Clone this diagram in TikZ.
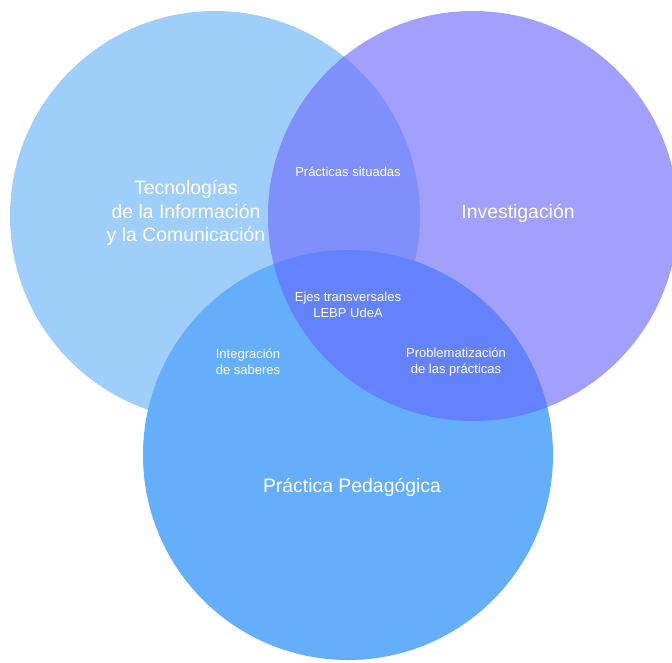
\documentclass[tikz,border=0pt]{standalone}
\usepackage{fontspec}
\setmainfont{Liberation Sans}
\definecolor{ticblue}{HTML}{A0CEFA}
\definecolor{invpurple}{HTML}{A2A0FC}
\definecolor{ppblue}{HTML}{64AEFC}
\definecolor{ticinv}{HTML}{7F90FC}
\definecolor{invpp}{HTML}{6482FC}
\tikzset{
  bigtxt/.style={text=white, align=center, font=\fontsize{19.4}{23.5}\selectfont},
  smalltxt/.style={text=white, align=center, font=\fontsize{13}{15.5}\selectfont}
}
\begin{document}
\begin{tikzpicture}[x=1pt, y=-1pt]
    \useasboundingbox (0,0) rectangle (672,662);
    \def\rad{205pt}

    % Circle centres
    \foreach \n/\x/\y in {tic/215/216, inv/473/216, pp/348/455} {
      \path (\x, \y) coordinate (\n);
    }

    % Circles
    \fill [ticblue] (tic) circle [radius=\rad];
    \fill [invpurple] (inv) circle [radius=\rad];
    \begin{scope}
      \clip (tic) circle [radius=\rad];
      \fill [ticinv] (inv) circle [radius=\rad];
    \end{scope}
    \fill [ppblue] (pp) circle [radius=\rad];
    \begin{scope}
      \clip (pp) circle [radius=\rad];
      \fill [invpp] (inv) circle [radius=\rad];
    \end{scope}

    % Main labels
    \node [bigtxt] (ticlbl) at (186, 213) {Tecnologías\\de la Información\\y la Comunicación};
    \node [bigtxt] (invlbl) at (518, 213) {Investigación};
    \node [bigtxt] (pplbl) at (352, 487) {Práctica Pedagógica};

    % Intersection labels
    \node [smalltxt] (sit) at (348, 172) {Prácticas situadas};
    \node [smalltxt] (ejes) at (348, 305) {Ejes transversales\\LEBP UdeA};
    \node [smalltxt] (integ) at (248, 362) {Integración\\de saberes};
    \node [smalltxt] (probl) at (456, 362) {Problematización\\de las prácticas};
\end{tikzpicture}
\end{document}
